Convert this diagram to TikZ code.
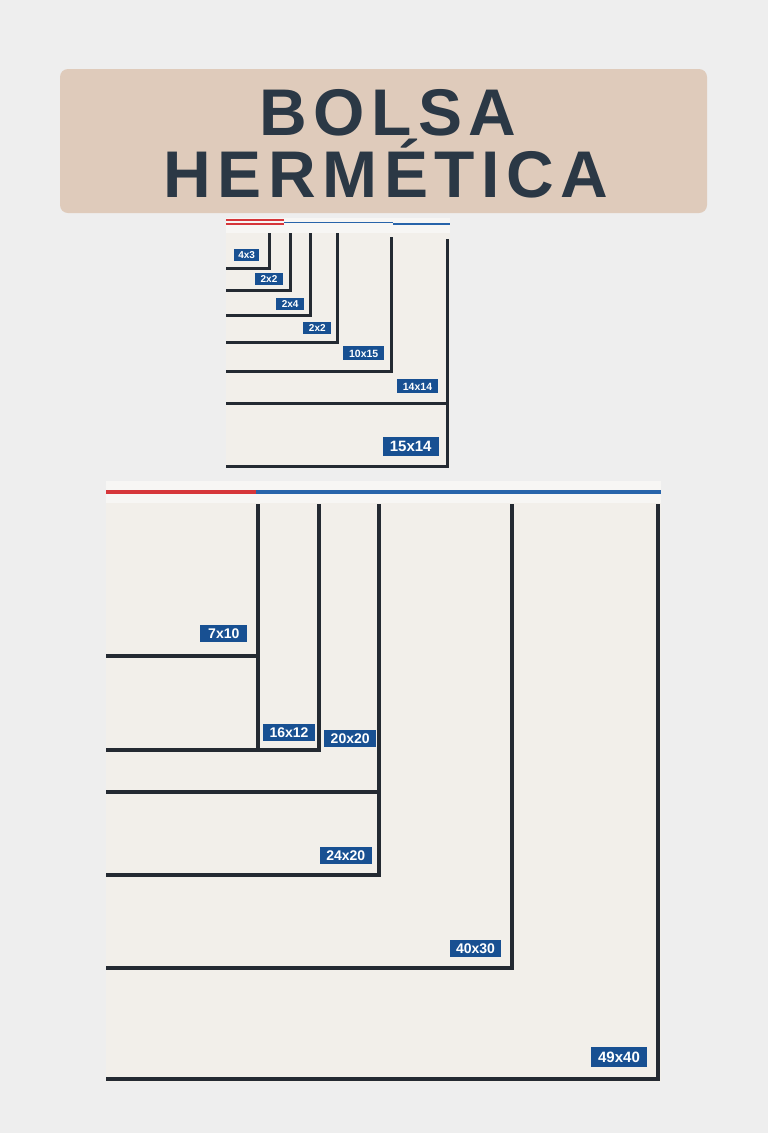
\documentclass[tikz,border=0pt]{standalone}
\usepackage{fontspec}
\setmainfont{Liberation Sans}
\usepackage{xcolor}
\usepackage{tikz}
\usetikzlibrary{positioning}
\definecolor{bggray}{RGB}{238,238,238}
\definecolor{tanbox}{RGB}{223,203,187}
\definecolor{inkdark}{RGB}{43,56,69}
\definecolor{panelcream}{RGB}{242,239,234}
\definecolor{stripwhite}{RGB}{247,246,244}
\definecolor{edgedark}{RGB}{36,42,50}
\definecolor{sealred}{RGB}{214,54,58}
\definecolor{sealblue}{RGB}{40,100,170}
\definecolor{tagblue}{RGB}{24,80,146}
\tikzset{
  titlebox/.style={fill=tanbox, rounded corners=8pt},
  titletext/.style={text=inkdark, inner sep=0pt,
                    font=\bfseries\fontsize{66}{66}\selectfont\addfontfeature{LetterSpace=10}},
  frame/.style={draw=edgedark, line width=3pt, line join=miter},
  bigframe/.style={frame, line width=4pt},
  tag/.style={fill=tagblue, text=white, text depth=0pt},
  tagS/.style={tag, font=\bfseries\fontsize{10}{10}\selectfont, text height=7.2pt,
               inner xsep=4pt, inner ysep=2.4pt, minimum width=28pt},
  tagM/.style={tag, font=\bfseries\fontsize{10.5}{10.5}\selectfont, text height=7.6pt,
               inner xsep=6pt, inner ysep=3.3pt},
  tagL/.style={tag, font=\bfseries\fontsize{14}{14}\selectfont, text height=10pt,
               inner xsep=6.5pt, inner ysep=3.4pt, minimum width=47pt},
  tagXL/.style={tag, font=\bfseries\fontsize{15}{15}\selectfont, text height=10.8pt,
                inner xsep=7pt, inner ysep=4.2pt},
}

\begin{document}
\begin{tikzpicture}[x=1pt, y=-1pt]
  % Background
  \fill[bggray] (0,0) rectangle (768,1133);
  \useasboundingbox (0,0) rectangle (768,1133);

  % Title
  \fill[titlebox] (60,69) rectangle (707,213);
  \node[titletext, anchor=base] (bolsa) at (388,135) {BOLSA};
  \node[titletext, anchor=base] (hermetica) at (386,197) {HERMÉTICA};

  % Small bag
  \fill[panelcream] (226,233) rectangle (450,468);
  \fill[stripwhite] (226,218) rectangle (450,233);
  \draw[sealred, line width=2pt] (226,220.3) -- (284,220.3);
  \draw[sealred, line width=2pt] (226,224) -- (284,224);
  \draw[sealblue, line width=1.5pt] (284,222.6) -- (393,222.6);
  \draw[sealblue, line width=1.5pt] (393,224) -- (450,224);

  \foreach \x/\y in {269.3/268, 290/290.7, 310.7/315, 337/342}
    \draw[frame] (226,\y) -- (\x,\y) -- (\x,233);
  \draw[frame] (226,371.7) -- (391,371.7) -- (391,236.7);
  \draw[frame] (226,403) -- (447.7,403);
  \draw[frame] (226,466) -- (447.7,466) -- (447.7,239);

  \node[tagS, minimum width=25pt] (t4x3) at (246.7,254.5) {4x3};
  \node[tagS] (t2x2a) at (269,278.7) {2x2};
  \node[tagS] (t2x4) at (290.2,303.7) {2x4};
  \node[tagS] (t2x2b) at (317.3,327.8) {2x2};
  \node[tagM] (t10x15) at (363.7,353.2) {10x15};
  \node[tagM] (t14x14) at (417.5,386.3) {14x14};
  \node[tagXL] (t15x14) at (410.7,446.3) {15x14};

  % Big bag
  \fill[panelcream] (106,503) rectangle (661,1082);
  \fill[stripwhite] (106,481) rectangle (661,503);
  \draw[sealred, line width=3.4pt] (106,492) -- (256,492);
  \draw[sealblue, line width=3.4pt] (256,492) -- (661,492);

  \draw[bigframe] (106,655.7) -- (258,655.7);
  \draw[bigframe] (258,504) -- (258,750);
  \draw[bigframe] (106,750) -- (319,750) -- (319,504);
  \draw[bigframe] (106,792) -- (379.3,792);
  \draw[bigframe] (106,875) -- (379.3,875) -- (379.3,504);
  \draw[bigframe] (106,968) -- (512.3,968) -- (512.3,504);
  \draw[bigframe] (106,1079) -- (658.3,1079) -- (658.3,504);

  \node[tagL] (t7x10) at (223.8,633.3) {7x10};
  \node[tagL] (t16x12) at (289,732.3) {16x12};
  \node[tagL] (t20x20) at (350.2,738.7) {20x20};
  \node[tagL] (t24x20) at (345.8,855.7) {24x20};
  \node[tagL] (t40x30) at (475.5,948.7) {40x30};
  \node[tagXL] (t49x40) at (619,1057) {49x40};
\end{tikzpicture}
\end{document}
